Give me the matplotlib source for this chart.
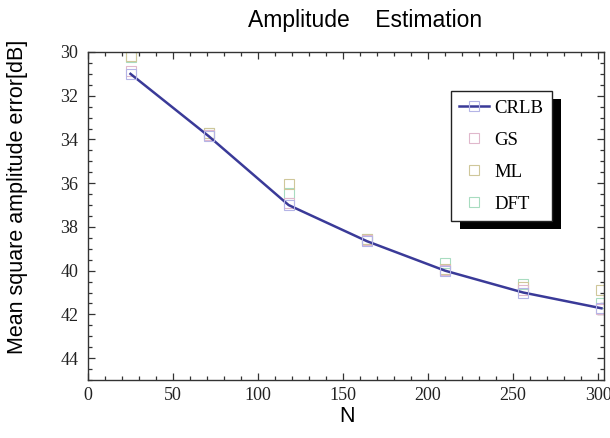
import matplotlib
matplotlib.use("Agg")
import matplotlib.pyplot as plt
from matplotlib.patches import Rectangle
from matplotlib.ticker import MultipleLocator

# data
n_values = [25, 71, 118, 164, 210, 256, 302]
crlb = [31.0, 33.85, 37.0, 38.65, 40.0, 41.0, 41.72]
gs = [30.87, 33.8, 36.9, 38.6, 39.97, 40.9, 41.75]
ml = [30.2, 33.7, 36.04, 38.55, 39.92, 40.75, 40.9]
dft = [30.25, 33.7, 36.45, 38.55, 39.65, 40.6, 41.5]

series_names = ["CRLB", "GS", "ML", "DFT"]
x_ticks = [0, 50, 100, 150, 200, 250, 300]
y_ticks = [30, 32, 34, 36, 38, 40, 42, 44]

serif = "Liberation Serif"
sans = "Liberation Sans"

fig = plt.figure(figsize=(6.1, 4.38), dpi=100)
ax = fig.add_axes([88 / 610, 1 - 380 / 438, 516 / 610, 328 / 438])

marker_kw = dict(marker="s", markersize=6.5, markerfacecolor="none", markeredgewidth=0.8)

ax.plot(n_values, dft, linestyle="none", markeredgecolor="#a8dcc0", label=series_names[3], **marker_kw)
ax.plot(n_values, ml, linestyle="none", markeredgecolor="#cfc79a", label=series_names[2], **marker_kw)
ax.plot(n_values, gs, linestyle="none", markeredgecolor="#e0b8cc", label=series_names[1], **marker_kw)
ax.plot(n_values, crlb, color="#3a3a98", linewidth=1.8, markeredgecolor="#b4b4e6",
        label=series_names[0], **marker_kw)

ax.set_xlim(0, 303.5)
ax.set_ylim(45, 30)
ax.set_xticks(x_ticks)
ax.set_yticks(y_ticks)
ax.xaxis.set_minor_locator(MultipleLocator(10))
ax.yaxis.set_minor_locator(MultipleLocator(0.5))
ax.tick_params(which="both", direction="in", top=True, right=True, color="#333333", width=0.9)
ax.tick_params(which="major", length=5)
ax.tick_params(which="minor", length=3)
ax.tick_params(axis="x", pad=5)
ax.tick_params(axis="y", pad=7)
for lbl in ax.get_xticklabels() + ax.get_yticklabels():
    lbl.set_fontfamily(serif)
    lbl.set_fontsize(13)
    lbl.set_color("#222222")
for sp in ax.spines.values():
    sp.set_color("#333333")
    sp.set_linewidth(1.0)

fig.text(365 / 610, 1 - 20 / 438, "Amplitude    Estimation", family=sans, fontsize=16.5,
         ha="center", va="center")
fig.text(347 / 610, 1 - 416 / 438, "N", family=sans, fontsize=15.5, ha="center", va="center")
fig.text(18 / 610, 1 - 197 / 438, "Mean square amplitude error[dB]", family=sans, fontsize=15.5,
         rotation=90, ha="center", va="center")

# legend in CRLB, GS, ML, DFT order with a solid black drop shadow
handles, labels = ax.get_legend_handles_labels()
order = [labels.index(name) for name in series_names]
leg = ax.legend([handles[i] for i in order], [labels[i] for i in order],
                loc="upper left", bbox_to_anchor=(0.7035, 0.881), frameon=True, fancybox=False,
                framealpha=1, edgecolor="#222222", prop={"family": serif, "size": 13.5},
                handlelength=1.6, handletextpad=0.25, labelspacing=0.8, borderpad=0.45,
                borderaxespad=0, markerscale=1.15)
leg.get_frame().set_linewidth(1.0)
leg.set_zorder(5)

fig.canvas.draw()
bb = leg.get_window_extent().transformed(ax.transAxes.inverted())
dx, dy = 9 / 516, 8 / 328
shadow = Rectangle((bb.x0 + dx, bb.y0 - dy), bb.width, bb.height, transform=ax.transAxes,
                   facecolor="black", edgecolor="none", zorder=4, clip_on=False)
ax.add_patch(shadow)

fig.savefig("out.png", dpi=100)
